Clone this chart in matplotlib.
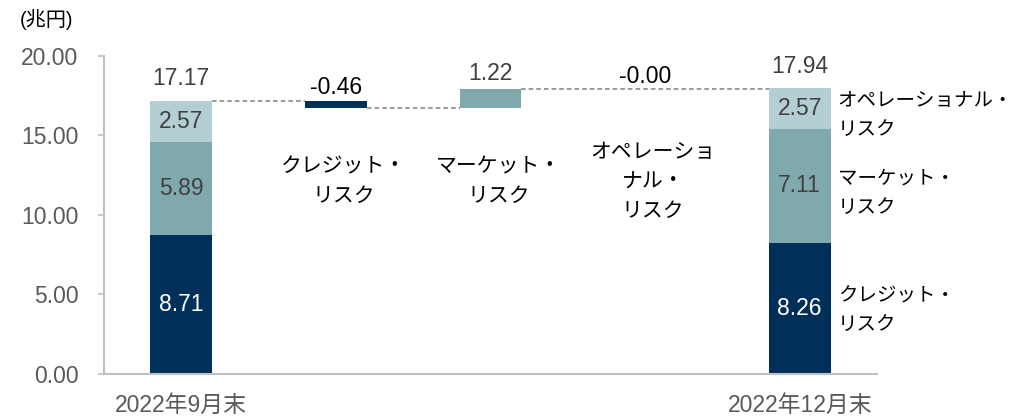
import matplotlib
matplotlib.use("Agg")
import matplotlib.pyplot as plt
import numpy as np

# ---- data ----
categories = ["2022年9月末", "", "", "", "2022年12月末"]
start_credit = 8.71
start_market = 5.89
start_oper = 2.57
start_total = 17.17
chg_credit = -0.46
chg_market = 1.22
chg_oper = -0.00
end_credit = 8.26
end_market = 7.11
end_oper = 2.57
end_total = 17.94
middle_labels = ["クレジット・\nリスク", "マーケット・\nリスク", "オペレーショ\nナル・\nリスク"]
right_labels = ["オペレーショナル・\nリスク", "マーケット・\nリスク", "クレジット・\nリスク"]
yticks = [0, 5, 10, 15, 20]
unit_label = "(兆円)"

C_CREDIT = "#00305a"
C_MARKET = "#80a9ad"
C_OPER = "#b4cfd3"
GRAY_TXT = "#404040"
TICK_TXT = "#595959"

LAT = ["Liberation Sans", "Noto Sans CJK JP", "DejaVu Sans"]
JP = ["Noto Sans CJK JP", "DejaVu Sans"]

fig = plt.figure(figsize=(10.21, 4.16), dpi=100)
ax = fig.add_axes([104/1021, 1-374/416, (877-104)/1021, (374-55.7)/416])

x = np.arange(len(categories))
w = 0.4

# start stacked bar
ax.bar(x[0], start_credit, w, color=C_CREDIT)
ax.bar(x[0], start_market, w, bottom=start_credit, color=C_MARKET)
ax.bar(x[0], start_oper, w, bottom=start_credit + start_market, color=C_OPER)
# changes
lvl1 = start_total
lvl2 = lvl1 + chg_credit
lvl3 = lvl2 + chg_market
lvl4 = lvl3 + chg_oper
ax.bar(x[1], chg_credit, w, bottom=lvl1, color=C_CREDIT)
ax.bar(x[2], chg_market, w, bottom=lvl2, color=C_MARKET)
ax.bar(x[3], chg_oper, w, bottom=lvl3, color=C_OPER)
# end stacked bar
ax.bar(x[4], end_credit, w, color=C_CREDIT)
ax.bar(x[4], end_market, w, bottom=end_credit, color=C_MARKET)
ax.bar(x[4], end_oper, w, bottom=end_credit + end_market, color=C_OPER)

# connectors
dash = dict(color="#7f7f7f", lw=1.1, ls=(0, (3, 2)))
ax.plot([x[0] + w/2, x[1] - w/2], [lvl1, lvl1], **dash)
ax.plot([x[1] + w/2, x[2] - w/2], [lvl2, lvl2], **dash)
ax.plot([x[2] + w/2, x[4] - w/2], [lvl3, lvl3], **dash)

fs_num = 16.5
fs_jp = 15
fs_jp_r = 14.0
# labels inside bars
def inside(xx, bottom, h, color):
    ax.text(xx, bottom + h/2, f"{h:.2f}", ha="center", va="center",
            fontsize=fs_num, color=color, family=LAT)

inside(x[0], 0, start_credit, "white")
inside(x[0], start_credit, start_market, GRAY_TXT)
inside(x[0], start_credit + start_market, start_oper, GRAY_TXT)
inside(x[4], 0, end_credit, "white")
inside(x[4], end_credit, end_market, GRAY_TXT)
inside(x[4], end_credit + end_market, end_oper, GRAY_TXT)

def top_label(xx, y, txt, dy, color):
    ax.annotate(txt, (xx, y), xytext=(0, dy), textcoords="offset pixels",
                ha="center", va="center", fontsize=fs_num, color=color, family=LAT)

top_label(x[0], start_total, f"{start_total:.2f}", 22, GRAY_TXT)
top_label(x[1], lvl1, f"{chg_credit:.2f}", 13, "black")
top_label(x[2], lvl3, f"{chg_market:.2f}", 15, GRAY_TXT)
top_label(x[3], lvl3, f"-{abs(chg_oper):.2f}", 12, "black")
top_label(x[4], end_total, f"{end_total:.2f}", 22, GRAY_TXT)

# middle category labels
for i, lab in enumerate(middle_labels):
    ax.annotate(lab, (x[i+1], 12.1), xytext=(8, 0), textcoords="offset pixels",
                ha="center", va="center", fontsize=fs_jp, family=JP,
                linespacing=1.45, color="black")

# right labels
segs = [end_credit + end_market + end_oper/2, end_credit + end_market/2, end_credit/2]
offs = [-6, -7, -2]
for lab, yy, o in zip(right_labels, segs, offs):
    ax.annotate(lab, (x[4] + w/2, yy), xytext=(7, o), textcoords="offset pixels",
                ha="left", va="center", fontsize=fs_jp_r, family=JP,
                linespacing=1.5, color="black", annotation_clip=False)

ax.set_xlim(-0.5, 4.5)
ax.set_ylim(0, 20)
ax.set_yticks(yticks)
ax.set_yticklabels([f"{v:.2f}" for v in yticks], family=LAT, fontsize=fs_num, color=TICK_TXT)
ax.set_xticks(x)
ax.set_xticklabels(categories, family=LAT, fontsize=fs_num, color=TICK_TXT)
ax.tick_params(axis="x", length=0, pad=14)
ax.tick_params(axis="y", length=4.5, width=1.2, color="#c0c0c0", pad=14)
for s in ["top", "right"]:
    ax.spines[s].set_visible(False)
ax.spines["left"].set_color("#c0c0c0")
ax.spines["bottom"].set_color("#c0c0c0")
ax.spines["left"].set_linewidth(1.5)
ax.spines["bottom"].set_linewidth(1.5)

fig.text(20/1021, 1-19/416, unit_label, ha="left", va="center", fontsize=14.5,
         family=LAT, color="black")

fig.savefig("out.png", dpi=100)
